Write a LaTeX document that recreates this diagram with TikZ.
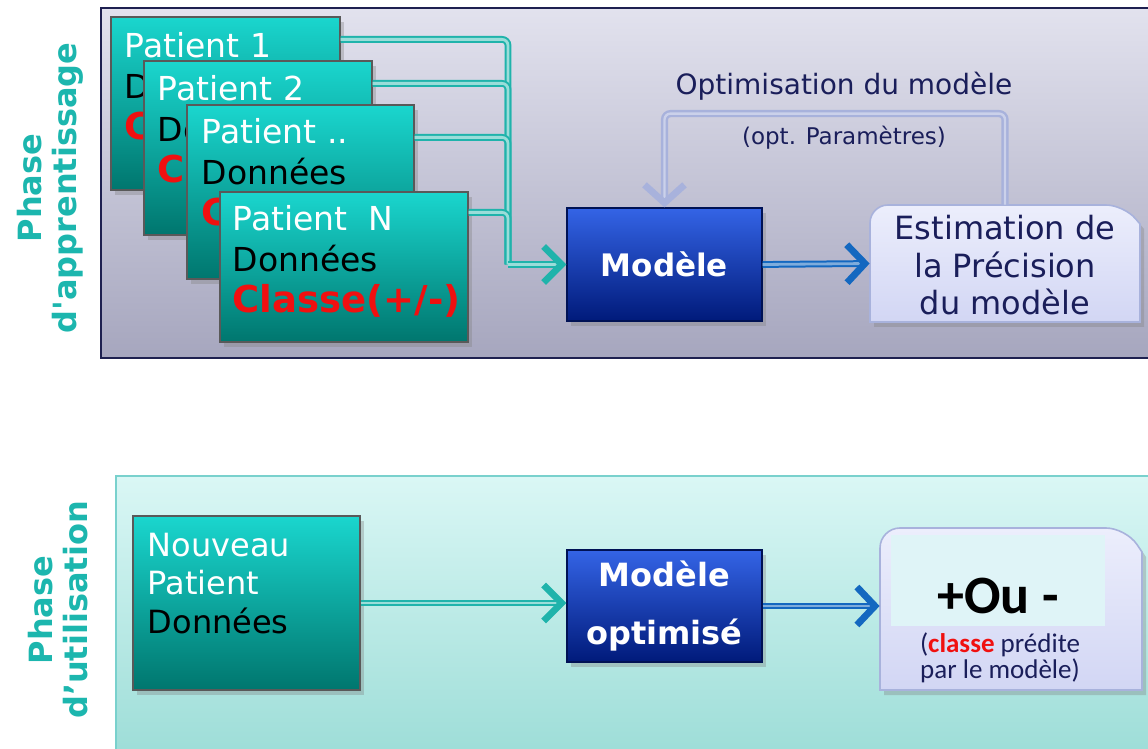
\documentclass[tikz,border=0pt]{standalone}
\usepackage{fontspec}
\setmainfont{DejaVu Sans}
\newfontfamily\phasefont{DejaVu Sans}
\newfontfamily\calfont{Carlito}
\usetikzlibrary{arrows.meta,positioning,fit,shadows}

\definecolor{tealtop}{HTML}{1AD6CE}
\definecolor{tealbot}{HTML}{00766E}
\definecolor{bluetop}{HTML}{3464E6}
\definecolor{bluebot}{HTML}{001A7A}
\definecolor{phasec}{HTML}{1CB6AE}
\definecolor{navy}{HTML}{1E2050}
\definecolor{paneltop}{HTML}{E2E2EE}
\definecolor{panelbot}{HTML}{A6A6BE}
\definecolor{usetop}{HTML}{DAF7F5}
\definecolor{usebot}{HTML}{9ADCD6}
\definecolor{lavtop}{HTML}{ECEEFC}
\definecolor{lavbot}{HTML}{D2D6F4}
\definecolor{lavline}{HTML}{A8B2DC}
\definecolor{arrteal}{HTML}{1FB3AB}
\definecolor{arrblue}{HTML}{1468C0}
\definecolor{txtnavy}{HTML}{1A1E5A}
\definecolor{redc}{HTML}{F01010}

\newcommand{\classlbl}{\textcolor{redc}{\fontsize{18.5}{20.5}\selectfont\bfseries Classe(+/-)}}

\tikzset{
  softshadow/.style={drop shadow={opacity=0.35,shadow xshift=2pt,shadow yshift=-2.5pt}},
  card/.style={draw=black!65, line width=0.6pt, top color=tealtop, bottom color=tealbot,
    inner sep=0pt, softshadow},
  cardtxt/.style={inner sep=0pt, align=left, text=white,
    font=\fontsize{16.5}{20.5}\selectfont},
  modbox/.style={draw=bluebot!70!black, line width=0.6pt, top color=bluetop,
    bottom color=bluebot, inner sep=0pt, softshadow},
  modtxt/.style={text=white, align=center, inner sep=0pt},
  lavbox/.style={draw=lavline, line width=0.8pt, top color=lavtop, bottom color=lavbot,
    softshadow},
  tealline/.style={draw=arrteal, line width=1pt, double=arrteal!45, double distance=1.4pt,
    rounded corners=3pt},
  tealarrow/.style={tealline, -{Straight Barb[length=9pt,width=18pt,line width=3.4pt]}},
  bluearrow/.style={draw=arrblue, line width=1pt, double=arrblue!55, double distance=1.4pt,
    -{Straight Barb[length=9pt,width=19pt,line width=3.4pt]}},
  loopline/.style={draw=lavline, line width=1.2pt, double=lavline!60, double distance=1.2pt,
    rounded corners=3pt, -{Straight Barb[length=9pt,width=20pt,line width=3.4pt]}},
  phase/.style={rotate=90, align=center, text=phasec,
    font=\phasefont\bfseries\fontsize{16}{17.5}\selectfont}
}

\begin{document}
\begin{tikzpicture}[x=0.5pt,y=-0.5pt]
\useasboundingbox (0,0) rectangle (1148,749);

% panels
\draw[navy, line width=1.2pt, top color=paneltop, bottom color=panelbot]
  (101,8) rectangle (1170,358);
\draw[arrteal!60, line width=0.8pt, top color=usetop, bottom color=usebot]
  (116,476) rectangle (1170,770);
\node[phase] (ph1) at (50,188) {Phase\\d'apprentissage};
\node[phase] (ph2) at (58,610) {Phase\\d’utilisation};

% patient cards
\node[card, fit={(111,17) (340,190)}] (p1) {};
\node[cardtxt, below right=8pt and 7pt of p1.north west] (p1t)
  {Patient 1\\ \textcolor{black}{Données}\\ \classlbl};
\node[card, fit={(144,61) (372,235)}] (p2) {};
\node[cardtxt, below right=7.5pt and 7pt of p2.north west] (p2t)
  {Patient 2\\ \textcolor{black}{Données}\\ \classlbl};
\node[card, fit={(187,105) (414,279)}] (p3) {};
\node[cardtxt, below right=7pt and 7.5pt of p3.north west] (p3t)
  {Patient ..\\ \textcolor{black}{Données}\\ \classlbl};
\node[card, fit={(220,192) (468,342)}] (pN) {};
\node[cardtxt, below right=7pt and 6.5pt of pN.north west] (pNt)
  {Patient\ \ N\\ \textcolor{black}{Données}\\ \classlbl};

% model and estimation
\node[modbox, fit={(567,208) (762,321)}] (mod) {};
\node[modtxt, font=\bfseries\fontsize{15.5}{19}\selectfont] (modt) at (mod.center) {Modèle};
\path[lavbox] (870,322) [rounded corners=9pt] -- (870,205) -- (1124,205) [sharp corners]
  -- (1140,224) -- (1140,322) -- cycle;
\node[fit={(870,205) (1140,322)}, inner sep=0pt] (est) {};
\node[align=center, text=txtnavy, inner sep=0pt, font=\fontsize{16}{18.75}\selectfont]
  (estt) at ([yshift=-1pt]est.center) {Estimation de\\la Précision\\du modèle};

\coordinate (jn) at (508,264.5);
\draw[tealline] ([yshift=-11.5pt]p1.north east) -| (jn);
\draw[tealline] ([yshift=-11.5pt]p2.north east) -| (jn);
\draw[tealline] ([yshift=-16.5pt]p3.north east) -| (jn);
\draw[tealline] ([yshift=-10.5pt]pN.north east) -| (jn);
\draw[tealarrow] (jn) -- (mod.west);
\draw[bluearrow] (mod.east) -- (est.west);
\draw[loopline] (est.north) -- ++(0,-91) -| (mod.north);
\node[text=txtnavy, font=\fontsize{14}{16}\selectfont] (opt) at (844,86) {Optimisation du modèle};
\node[text=txtnavy, font=\fontsize{11.5}{14}\selectfont] (par) at (844,138) {(opt. Paramètres)};

% usage phase
\node[card, fit={(133,516) (360,690)}] (nv) {};
\node[cardtxt, below right=8.5pt and 7.5pt of nv.north west, font=\fontsize{16}{19.25}\selectfont] (nvt)
  {Nouveau\\Patient\\ \textcolor{black}{Données}};
\node[modbox, fit={(567,550) (762,662)}] (modo) {};
\node[modtxt, font=\bfseries\fontsize{16}{29}\selectfont] (modot) at (modo.center) {Modèle\\optimisé};
\path[lavbox] (880,690) [rounded corners=10pt] -- (880,528) -- (1126,528) [sharp corners]
  -- (1142,552) -- (1142,690) -- cycle;
\node[fit={(880,528) (1142,690)}, inner sep=0pt] (res) {};
\fill[usetop!70!lavtop] (891,535) rectangle (1105,626);
\node[font=\calfont\bfseries\fontsize{27}{30}\selectfont] (pm) at (998,596) {+Ou -};
\node[align=center, text=txtnavy, font=\calfont\fontsize{13.5}{13}\selectfont] (cls) at (1000,658)
  {(\textcolor{redc}{\bfseries classe} prédite\\par le modèle)};
\draw[tealarrow] (nv.east) -- (nv.east -| modo.west);
\draw[bluearrow] (modo.east) -- (modo.east -| res.west);
\end{tikzpicture}
\end{document}
